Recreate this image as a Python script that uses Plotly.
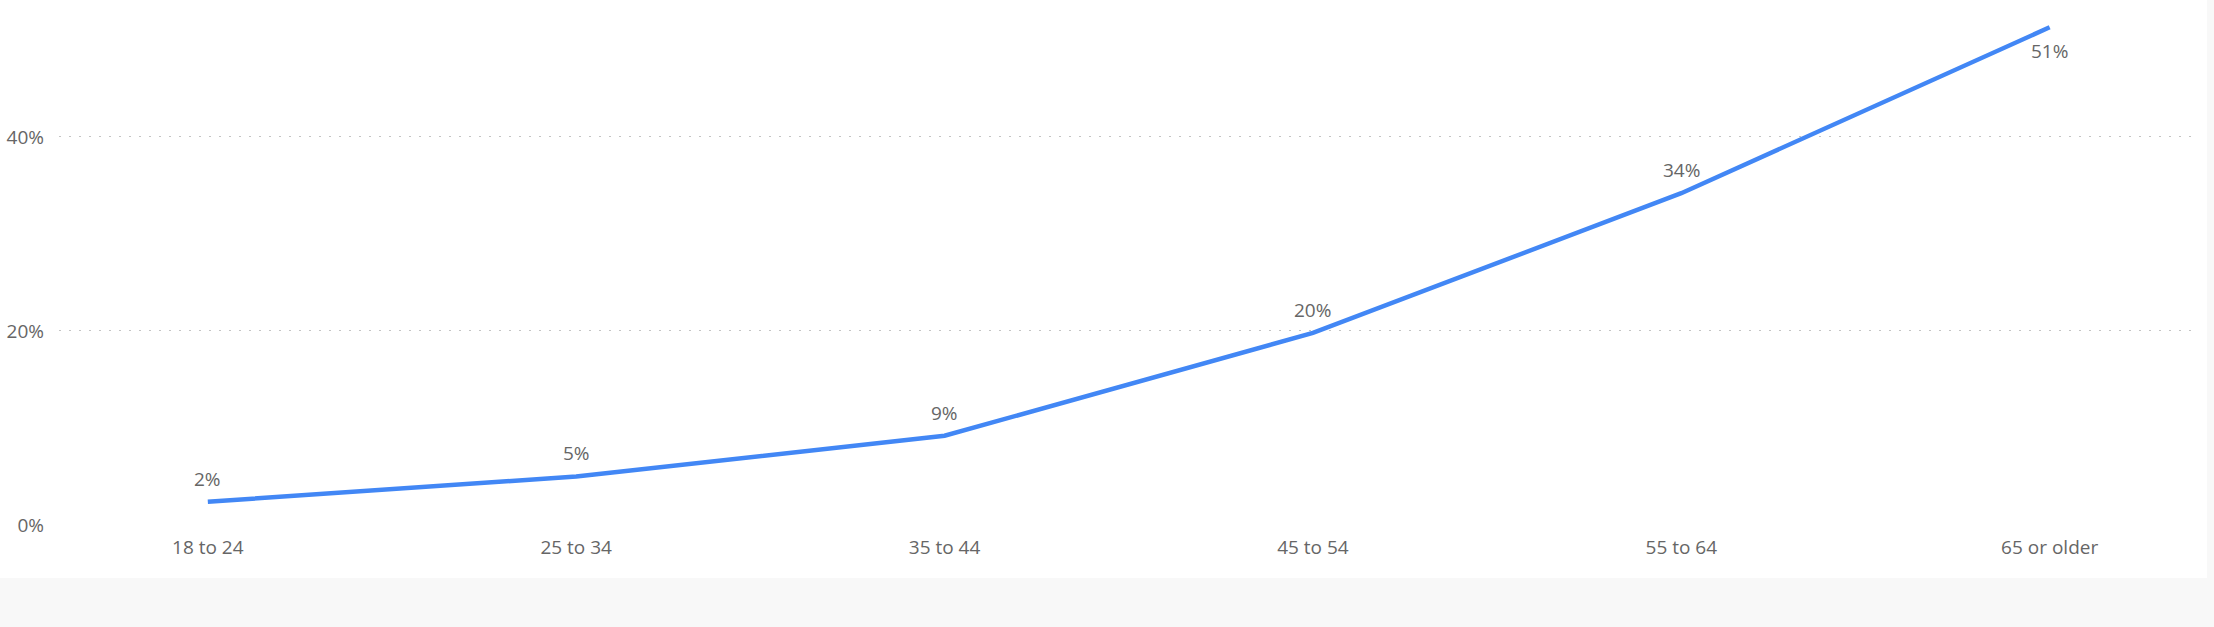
import plotly.graph_objects as go

age_groups = ["18 to 24", "25 to 34", "35 to 44", "45 to 54", "55 to 64", "65 or older"]
share = [0.024, 0.050, 0.092, 0.198, 0.342, 0.513]
label_below = [False, False, False, False, False, True]
y_ticks = [0, 0.2, 0.4]

W, H = 2214, 627
L, R, T, B = 59, 17, 5, 102

font_family = "Open Sans, Noto Sans, sans-serif"
text_color = "#666666"

fig = go.Figure()
fig.add_trace(go.Scatter(
    x=age_groups,
    y=share,
    mode="lines",
    line=dict(color="#4287f5", width=4.5),
    hoverinfo="skip",
    showlegend=False,
))

for cat, v, below in zip(age_groups, share, label_below):
    fig.add_annotation(
        x=cat, y=v, xref="x", yref="y",
        text=f"{round(v*100)}%",
        showarrow=False,
        yshift=-24 if below else 23,
        font=dict(family=font_family, size=19, color=text_color),
    )

# paper-coordinate helpers for the grey page strips
pw = W - L - R
ph = H - T - B
def px_x(x):
    return (x - L) / pw
def px_y(y):
    return (H - B - y) / ph

fig.add_shape(type="rect", xref="paper", yref="paper",
              x0=px_x(-2), x1=px_x(W + 2), y0=px_y(578), y1=px_y(H + 2),
              fillcolor="#f8f8f8", line=dict(width=0), layer="below")
fig.add_shape(type="rect", xref="paper", yref="paper",
              x0=px_x(2207), x1=px_x(W + 2), y0=px_y(578), y1=px_y(-2),
              fillcolor="#f8f8f8", line=dict(width=0), layer="below")

fig.update_layout(
    width=W, height=H,
    margin=dict(l=L, r=R, t=T, b=B),
    paper_bgcolor="white",
    plot_bgcolor="white",
    font=dict(family=font_family, size=19, color=text_color),
    hovermode=False,
    xaxis=dict(
        type="category",
        range=[-0.404, 5.4],
        showgrid=False, zeroline=False, showline=False,
        ticks="", tickfont=dict(size=19, color=text_color),
        ticklabelstandoff=9,
    ),
    yaxis=dict(
        range=[0, 0.536],
        tickvals=y_ticks,
        tickformat=".0%",
        showgrid=True, gridcolor="#c4c4c4", gridwidth=1, griddash="2px,8px",
        zeroline=False, showline=False,
        ticks="", tickfont=dict(size=19, color=text_color),
        ticklabelstandoff=14,
    ),
)

fig.write_html(
    "out.html",
    config={"displayModeBar": False, "staticPlot": True},
    post_script="document.body.style.margin='0';document.body.style.overflow='hidden';",
)
